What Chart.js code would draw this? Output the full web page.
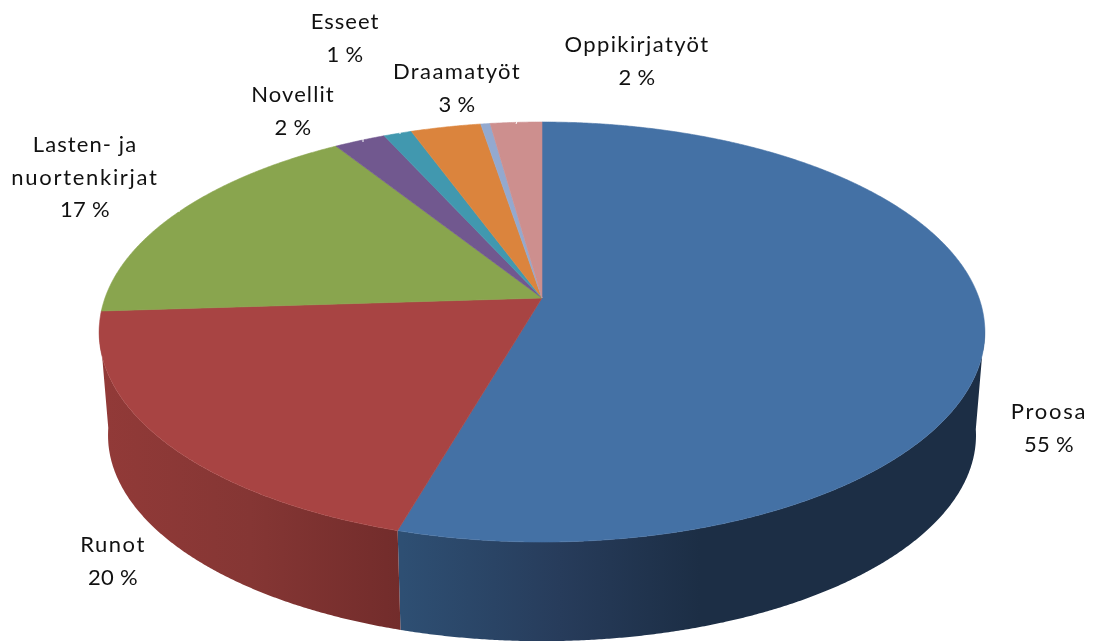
<!DOCTYPE html>
<html>
<head>
<meta charset="utf-8">
<style>html,body{margin:0;padding:0;background:#fff;overflow:hidden}canvas{display:block}</style>
<script src="https://cdn.jsdelivr.net/npm/chart.js@4"></script>
</head>
<body>
<canvas id="c" width="1094" height="641"></canvas>
<script>
const categories = ['Proosa','Runot','Lasten- ja nuortenkirjat','Novellit','Esseet','Draamatyöt','','Oppikirjatyöt'];
const shares = [54.5,19.5,17.0,2.2,1.2,3.0,0.4,2.2];
const topColors = ['#4471a5','#a84443','#89a54e','#71588f','#4198af','#db843d','#93a9cf','#cd8f8e'];
const wallStops = [
  [[402,'#2e4f73'],[560,'#273c5b'],[700,'#1c2e45'],[985,'#1c2e45']],
  [[100,'#923a38'],[250,'#853634'],[402,'#722c2b']],
];
// label lines, the letter spacing of each line and where each block is centred
const labelLines = [['Proosa'],['Runot'],['Lasten- ja','nuortenkirjat'],['Novellit'],['Esseet'],['Draamatyöt'],[],['Oppikirjatyöt']];
const labelSpacing = [[1.75],[1.5],[1.1,1.7],[1.1],[1],[1.4],[],[1.4]];
const labelAnchors = [[1049,412],[113,545],[85,145],[293,95],[345,22],[457,72],null,[637,45]];
const lineHeight = 32.5;
// tiny white leader-line stubs left on the rim
const leaderStubs = [[179,208,179,212],[363,138,363,142],[400,130,400,134],[518,119,516,124]];
// perspective of the tilted disc
const persp = 0.162, kx = 437/298, ky = 204.5/298, wallDrop = 104, wallScale = 0.98, wallFromY = 27;

function project(el, a, low){
  const u = Math.cos(a), v = -Math.sin(a), w = 1 + persp*v, R = el.outerRadius;
  const s = low ? wallScale : 1;
  return [el.x + s*kx*R*u/w, el.y + (low ? wallDrop : 0) - s*ky*R*v/w];
}
function rim(el, low){
  const pts = [], n = Math.max(2, Math.ceil((el.endAngle-el.startAngle)/0.005));
  for(let i=0;i<=n;i++) pts.push(project(el, el.startAngle+(el.endAngle-el.startAngle)*i/n, low));
  return pts;
}
function poly(ctx, pts){
  ctx.beginPath();
  pts.forEach((p,i)=> i ? ctx.lineTo(p[0],p[1]) : ctx.moveTo(p[0],p[1]));
  ctx.closePath();
}
const disc3d = {
  id:'disc3d',
  beforeDatasetDraw(chart, args){
    const ctx = chart.ctx, arcs = args.meta.data;
    ctx.save();
    ctx.lineJoin = 'round';
    arcs.forEach((el,i)=>{
      if(!wallStops[i]) return;           // rear slices have no visible side
      const st = wallStops[i], x0 = st[0][0], x1 = st[st.length-1][0];
      const g = ctx.createLinearGradient(x0,0,x1,0);
      st.forEach(s=>g.addColorStop((s[0]-x0)/(x1-x0), s[1]));
      ctx.fillStyle = g;
      const a = rim(el,false), b = rim(el,true);
      ctx.beginPath();
      for(let k=0;k<a.length-1;k++){
        if(a[k][1] < el.y+wallFromY) continue;   // the side only shows below the disc's widest point
        ctx.moveTo(a[k][0],a[k][1]);
        ctx.lineTo(a[k+1][0],a[k+1][1]);
        ctx.lineTo(b[k+1][0],b[k+1][1]);
        ctx.lineTo(b[k][0],b[k][1]);
        ctx.closePath();
      }
      ctx.fill();
    });
    arcs.forEach((el,i)=>{
      poly(ctx, [[el.x,el.y]].concat(rim(el,false)));
      ctx.fillStyle = topColors[i]; ctx.strokeStyle = topColors[i]; ctx.lineWidth = 0.6;
      ctx.fill(); ctx.stroke();
    });
    ctx.restore();
    return false;
  },
  afterDraw(chart){
    const ctx = chart.ctx;
    ctx.save();
    ctx.strokeStyle = '#fff'; ctx.lineWidth = 1;
    leaderStubs.forEach(s=>{ctx.beginPath();ctx.moveTo(s[0],s[1]);ctx.lineTo(s[2],s[3]);ctx.stroke();});
    ctx.font = '22px Lato';
    ctx.fillStyle = '#111';
    ctx.textAlign = 'center';
    ctx.textBaseline = 'middle';
    labelLines.forEach((lines,i)=>{
      const at = labelAnchors[i];
      if(!at) return;
      lines.forEach((t,k)=>{
        ctx.letterSpacing = labelSpacing[i][k]+'px';
        ctx.fillText(t, at[0], at[1]+k*lineHeight);
      });
      ctx.letterSpacing = '0.3px';
      ctx.fillText(Math.round(shares[i])+' %', at[0], at[1]+lines.length*lineHeight);
    });
    ctx.restore();
  }
};
new Chart(document.getElementById('c'),{
  type:'pie',
  data:{labels:categories,datasets:[{data:shares,backgroundColor:topColors,borderWidth:0}]},
  options:{
    responsive:false,animation:false,
    layout:{padding:{right:10,bottom:45}},
    plugins:{legend:{display:false},tooltip:{enabled:false}}
  },
  plugins:[disc3d]
});
</script>
</body>
</html>
